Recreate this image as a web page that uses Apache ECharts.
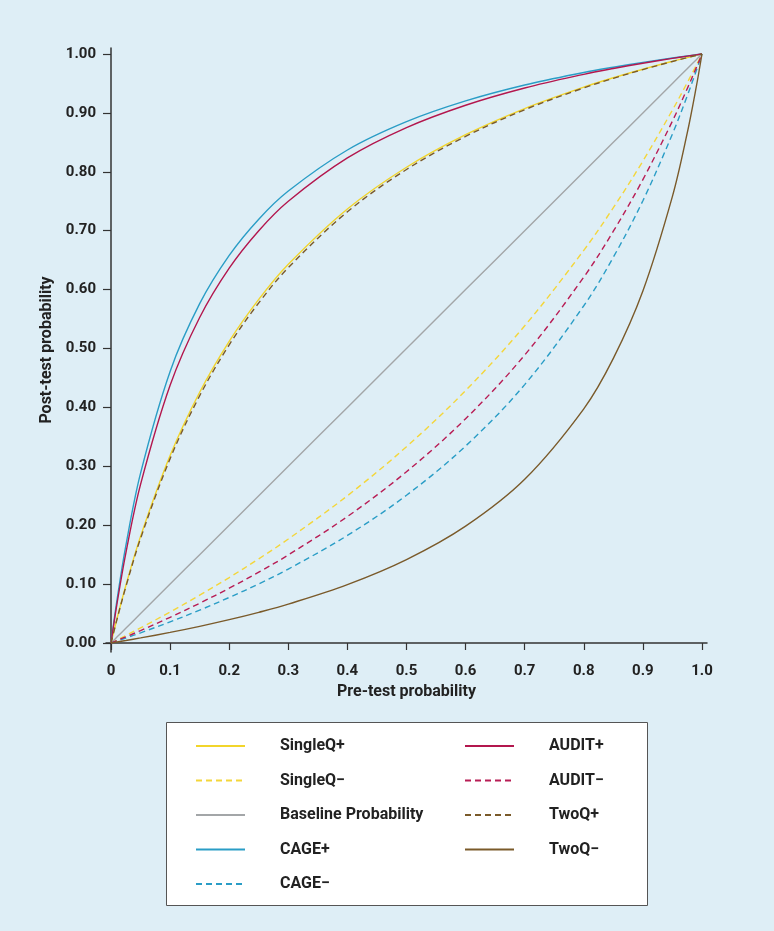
<!DOCTYPE html>
<html>
<head>
<meta charset="utf-8">
<script src="https://cdn.jsdelivr.net/npm/echarts@6/dist/echarts.min.js"></script>
<style>html,body{margin:0;padding:0;background:#deeef6;}#c{width:774px;height:931px;}</style>
</head>
<body>
<div id="c"></div>
<script>
var preTest = [0, 0.01, 0.025, 0.05, 0.1, 0.15, 0.2, 0.25, 0.3, 0.4, 0.5, 0.6, 0.7, 0.8, 0.85, 0.9, 0.95, 0.975, 0.99, 1];
var singleQPos = [0, 0.0407, 0.0972, 0.1810, 0.3182, 0.4257, 0.5122, 0.5833, 0.6429, 0.7368, 0.8077, 0.8630, 0.9074, 0.9438, 0.9597, 0.9742, 0.9876, 0.9939, 0.9976, 1];
var singleQNeg = [0, 0.0050, 0.0127, 0.0256, 0.0526, 0.0811, 0.1111, 0.1429, 0.1765, 0.25, 0.3333, 0.4286, 0.5385, 0.6667, 0.7391, 0.8182, 0.9048, 0.9512, 0.9802, 1];
var baseline = [0, 0.01, 0.025, 0.05, 0.1, 0.15, 0.2, 0.25, 0.3, 0.4, 0.5, 0.6, 0.7, 0.8, 0.85, 0.9, 0.95, 0.975, 0.99, 1];
var cagePos = [0, 0.0722, 0.1649, 0.2884, 0.4611, 0.5761, 0.6581, 0.7196, 0.7674, 0.8370, 0.8851, 0.9203, 0.9473, 0.9686, 0.9776, 0.9858, 0.9932, 0.9967, 0.9987, 1];
var cageNeg = [0, 0.0034, 0.0085, 0.0173, 0.0359, 0.0558, 0.0773, 0.1004, 0.1255, 0.1826, 0.2509, 0.3344, 0.4387, 0.5726, 0.6550, 0.7509, 0.8642, 0.9289, 0.9707, 1];
var auditPos = [0, 0.0660, 0.1522, 0.2692, 0.4375, 0.5526, 0.6364, 0.7000, 0.7500, 0.8235, 0.8750, 0.9130, 0.9423, 0.9655, 0.9754, 0.9844, 0.9925, 0.9964, 0.9986, 1];
var auditNeg = [0, 0.0041, 0.0104, 0.0211, 0.0436, 0.0675, 0.0930, 0.1202, 0.1495, 0.2147, 0.2908, 0.3808, 0.4889, 0.6212, 0.6991, 0.7868, 0.8862, 0.9411, 0.9760, 1];
var twoQPos = [0, 0.0398, 0.0951, 0.1775, 0.3130, 0.4198, 0.5062, 0.5775, 0.6373, 0.7321, 0.8039, 0.8601, 0.9054, 0.9425, 0.9587, 0.9736, 0.9873, 0.9938, 0.9975, 1];
var twoQNeg = [0, 0.0017, 0.0042, 0.0086, 0.0180, 0.0283, 0.0396, 0.0521, 0.0660, 0.0991, 0.1416, 0.1984, 0.2780, 0.3976, 0.4832, 0.5976, 0.7582, 0.8655, 0.9423, 1];

var xTicks = [0, 0.1, 0.2, 0.3, 0.4, 0.5, 0.6, 0.7, 0.8, 0.9, 1.0];
var yTicks = [0, 0.1, 0.2, 0.3, 0.4, 0.5, 0.6, 0.7, 0.8, 0.9, 1.0];

var seriesDefs = [
  {name: 'SingleQ+', data: singleQPos, color: '#f2d52b', dash: 'solid'},
  {name: 'SingleQ\u2212', data: singleQNeg, color: '#f4d63a', dash: [6, 4]},
  {name: 'Baseline Probability', data: baseline, color: '#a3a6a8', dash: 'solid'},
  {name: 'CAGE+', data: cagePos, color: '#2a9dc6', dash: 'solid'},
  {name: 'CAGE\u2212', data: cageNeg, color: '#2a9dc6', dash: [6, 4]},
  {name: 'AUDIT+', data: auditPos, color: '#b3174e', dash: 'solid'},
  {name: 'AUDIT\u2212', data: auditNeg, color: '#b81d55', dash: [6, 4]},
  {name: 'TwoQ+', data: twoQPos, color: '#7a5a2a', dash: [6, 4]},
  {name: 'TwoQ\u2212', data: twoQNeg, color: '#7a5a2a', dash: 'solid'}
];

var font = 'Roboto';
var chart = echarts.init(document.getElementById('c'), null, {renderer: 'canvas'});
var legendCommon = {
  z: 10, orient: 'vertical', top: 733, itemWidth: 49, itemHeight: 14, itemGap: 18.5,
  itemStyle: {opacity: 0},
  textStyle: {fontFamily: font, fontWeight: 'bold', fontSize: 16, color: '#222', padding: [0, 0, 0, 30]},
  selectedMode: false
};
var option = {
  backgroundColor: '#deeef6',
  animation: false,
  textStyle: {fontFamily: font},
  grid: {left: 106, right: 67, top: 48, bottom: 279, containLabel: false},
  xAxis: {
    type: 'value', min: -0.0085, max: 1.0085,
    name: 'Pre-test probability', nameLocation: 'middle', nameGap: 30,
    nameTextStyle: {fontFamily: font, fontWeight: 'bold', fontSize: 16, color: '#222'},
    axisLine: {show: true, lineStyle: {color: '#333', width: 1.5}},
    axisTick: {show: true, length: 7, lineStyle: {color: '#333', width: 1.2}, customValues: xTicks},
    axisLabel: {customValues: xTicks, margin: 12, fontFamily: font, fontWeight: 'bold', fontSize: 15, color: '#222',
      formatter: function (v) { return v === 0 ? '0' : v.toFixed(1); }},
    splitLine: {show: false}
  },
  yAxis: {
    type: 'value', min: -0.0153, max: 1.0102,
    name: 'Post-test probability', nameLocation: 'middle', nameGap: 46, nameRotate: 90,
    nameTextStyle: {fontFamily: font, fontWeight: 'bold', fontSize: 16, color: '#222'},
    axisLine: {show: true, lineStyle: {color: '#333', width: 1.5}},
    axisTick: {show: true, length: 8, lineStyle: {color: '#333', width: 1.2}, customValues: yTicks},
    axisLabel: {customValues: yTicks, margin: 10, fontFamily: font, fontWeight: 'bold', fontSize: 15, color: '#222',
      formatter: function (v) { return v.toFixed(2); }},
    splitLine: {show: false}
  },
  graphic: [{
    type: 'rect', z: 0, silent: true,
    shape: {x: 166.5, y: 722.5, width: 481, height: 183},
    style: {fill: '#ffffff', stroke: '#555', lineWidth: 1}
  }],
  legend: [
    Object.assign({}, legendCommon, {left: 190, data: ['SingleQ+', 'SingleQ\u2212', 'Baseline Probability', 'CAGE+', 'CAGE\u2212']}),
    Object.assign({}, legendCommon, {left: 459, data: ['AUDIT+', 'AUDIT\u2212', 'TwoQ+', 'TwoQ\u2212']})
  ],
  series: seriesDefs.map(function (s) {
    return {
      name: s.name, type: 'line', symbol: 'none', smooth: 0.35,
      data: preTest.map(function (x, i) { return [x, s.data[i]]; }),
      color: s.color,
      lineStyle: {color: s.color, width: 1.4, type: s.dash},
      itemStyle: {color: s.color}
    };
  })
};
chart.setOption(option);
</script>
</body>
</html>
